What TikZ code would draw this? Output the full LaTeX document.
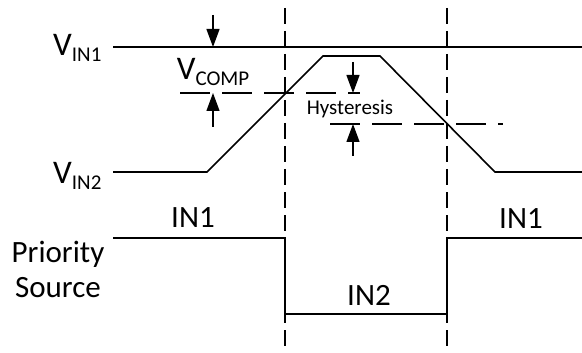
\documentclass[tikz,border=0pt]{standalone}
\usepackage{fontspec}
\setmainfont{Carlito}
\usetikzlibrary{arrows.meta}
\newcommand{\bigtxt}{\fontsize{31}{36}\selectfont}
\newcommand{\subtxt}{\fontsize{21}{24}\selectfont}
\newcommand{\vsub}[1]{{\fontsize{33}{36}\selectfont V}\raisebox{-6pt}{\subtxt #1}}

\begin{document}
\begin{tikzpicture}[x=1pt,y=-1pt,
    sig/.style={line width=1.6pt},
    guide/.style={line width=1.3pt,dash pattern=on 16pt off 7pt},
    level/.style={line width=1.3pt,dash pattern=on 30pt off 12pt},
    gap arrow/.style={line width=1.3pt,-{Triangle[length=18pt,width=13pt]}},
    lbl/.style={inner sep=0pt,font=\bigtxt}]
    \useasboundingbox (0,0) rectangle (582,353);
    % labels
    \node[lbl,anchor=base west] (vin1) at (53,56) {\vsub{IN1}};
    \node[lbl,anchor=base west] (vin2) at (53,183) {\vsub{IN2}};
    \node[lbl,anchor=base] (vcomp) at (213,80) {\vsub{COMP}};
    \node[inner sep=0pt,anchor=base,font=\fontsize{21}{24}\selectfont] (hyst) at (350,115) {Hysteresis};
    \node[lbl,anchor=base] (in1a) at (193,227) {IN1};
    \node[lbl,anchor=base] (in2) at (369,305) {IN2};
    \node[lbl,anchor=base] (in1b) at (521,228) {IN1};
    \node[lbl,anchor=base] (prio) at (58,262) {Priority};
    \node[lbl,anchor=base] (src) at (58,297) {Source};
    % switch points
    \coordinate (s1top) at (285,8);
    \coordinate (s1bot) at (285,353);
    \coordinate (s2top) at (447,8);
    \coordinate (s2bot) at (447,353);
    \draw[guide] (s1top) -- (s1bot);
    \draw[guide] (s2top) -- (s2bot);
    % inputs
    \draw[sig] (113,47) -- (582,47);
    \draw[sig] (113,172) -- (207,172) -- (323,56) -- (380,56) -- (495,172) -- (582,172);
    \draw[sig] (113,238) -- (285,238) -- (285,314) -- (447,314) -- (447,238) -- (582,238);
    % thresholds
    \coordinate (cmpl) at (180,93);
    \coordinate (cmpr) at (360,93);
    \coordinate (hysl) at (330,124);
    \coordinate (hysr) at (503,124);
    \draw[level] (cmpl) -- (cmpr);
    \draw[level] (hysl) -- (hysr);
    % gap arrows
    \coordinate (c1) at (213,15);
    \coordinate (c2) at (213,47);
    \coordinate (c3) at (213,127);
    \coordinate (c4) at (213,93);
    \coordinate (h1) at (353,62);
    \coordinate (h2) at (353,93);
    \coordinate (h3) at (353,156);
    \coordinate (h4) at (353,124);
    \draw[gap arrow] (c1) -- (c2);
    \draw[gap arrow] (c3) -- (c4);
    \draw[gap arrow] (h1) -- (h2);
    \draw[gap arrow] (h3) -- (h4);
\end{tikzpicture}
\end{document}
